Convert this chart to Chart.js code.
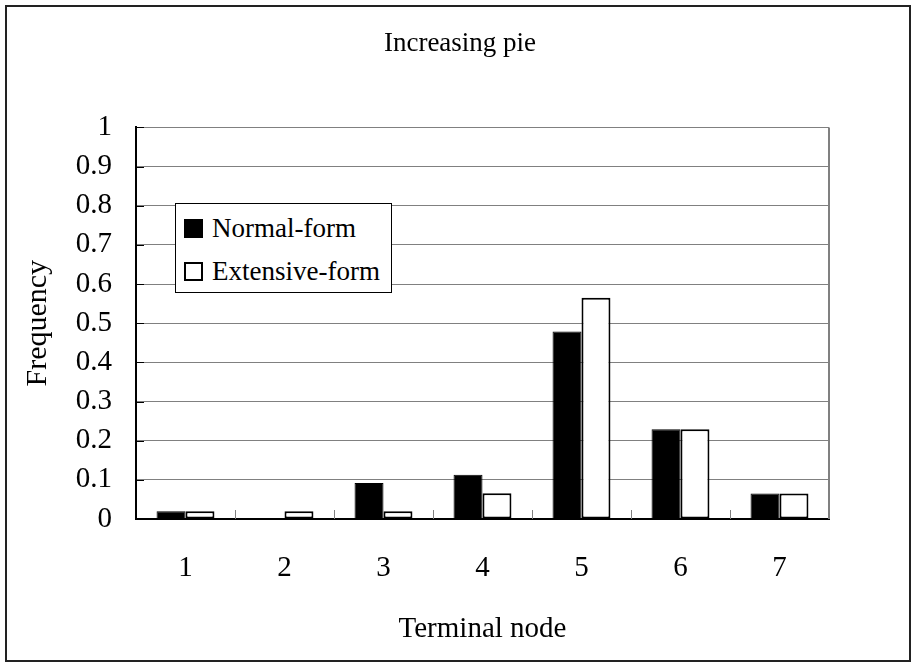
<!DOCTYPE html>
<html>
<head>
<meta charset="utf-8">
<title>Increasing pie</title>
<script src="https://cdn.jsdelivr.net/npm/chart.js@4.4.1/dist/chart.umd.min.js"></script>
<style>
  html, body { margin: 0; padding: 0; background: #fff; }
  #wrap { position: relative; width: 914px; height: 664px; }
  #chart { position: absolute; left: 0; top: 0; }
  #frame { position: absolute; left: 5px; top: 5px; width: 906px; height: 657px; border: 2px solid #222; box-sizing: border-box; pointer-events: none; }
  #legend { position: absolute; left: 175px; top: 203px; width: 217px; height: 90px; box-sizing: border-box; border: 1px solid #000; background: #fff; font-family: 'Liberation Serif', 'Times New Roman', serif; font-size: 27px; color: #000; }
  .box { position: absolute; left: 8px; width: 19px; height: 19px; box-sizing: border-box; border: 2px solid #000; }
  .lbl { position: absolute; left: 36px; white-space: nowrap; line-height: 27px; }
</style>
</head>
<body>
<div id="wrap">
  <canvas id="chart" width="914" height="664"></canvas>
  <div id="frame"></div>
  <div id="legend"></div>
</div>
<script>
const categories = ['1', '2', '3', '4', '5', '6', '7'];
const seriesNames = ['Normal-form', 'Extensive-form'];
const normalForm = [0.02, 0, 0.092, 0.113, 0.479, 0.229, 0.065];
const extensiveForm = [0.02, 0.02, 0.02, 0.066, 0.565, 0.229, 0.065];
const yTickLabels = ['0', '0.1', '0.2', '0.3', '0.4', '0.5', '0.6', '0.7', '0.8', '0.9', '1'];

const serif = "'Liberation Serif', 'Times New Roman', serif";

// gray right edge, inner tick marks on both axes
const plotFrame = {
  id: 'plotFrame',
  afterDatasetsDraw(chart) {
    const { ctx, chartArea: a, scales: { x, y } } = chart;
    ctx.save();
    ctx.strokeStyle = '#808080';
    ctx.lineWidth = 2;
    ctx.beginPath();
    ctx.moveTo(a.right, a.top);
    ctx.lineTo(a.right, a.bottom);
    ctx.stroke();

    ctx.lineWidth = 1;
    for (let i = 0; i < categories.length - 1; i++) {
      const px = Math.round((x.getPixelForValue(i) + x.getPixelForValue(i + 1)) / 2) + 0.5;
      ctx.beginPath();
      ctx.moveTo(px, a.bottom);
      ctx.lineTo(px, a.bottom - 9);
      ctx.stroke();
    }

    ctx.strokeStyle = '#000';
    ctx.lineWidth = 1;
    y.ticks.forEach((t) => {
      const py = Math.round(y.getPixelForValue(t.value)) + 0.5;
      ctx.beginPath();
      ctx.moveTo(a.left, py);
      ctx.lineTo(a.left + 8, py);
      ctx.stroke();
    });
    ctx.restore();
  },
};

const chart = new Chart(document.getElementById('chart'), {
  type: 'bar',
  data: {
    labels: categories,
    datasets: [
      {
        label: seriesNames[0],
        data: normalForm,
        backgroundColor: '#000000',
        borderColor: '#000000',
        borderWidth: 1,
        categoryPercentage: 0.585,
        barPercentage: 1.0,
      },
      {
        label: seriesNames[1],
        data: extensiveForm,
        backgroundColor: '#ffffff',
        borderColor: '#000000',
        borderWidth: 2,
        borderSkipped: false,
        categoryPercentage: 0.585,
        barPercentage: 1.0,
      },
    ],
  },
  options: {
    responsive: false,
    animation: false,
    layout: { padding: { left: 6, right: 0, top: 0, bottom: 0 } },
    scales: {
      x: {
        grid: { display: false, drawTicks: false },
        border: { display: true, color: '#000', width: 2 },
        ticks: { color: '#000', font: { family: serif, size: 29 }, padding: 32 },
        title: {
          display: true,
          text: 'Terminal node',
          color: '#000',
          font: { family: serif, size: 29 },
          padding: { top: 0, bottom: 17 },
        },
        afterFit: (s) => { s.height = 145; },
      },
      y: {
        min: 0,
        max: 1,
        grid: { color: '#808080', lineWidth: 1, drawTicks: false },
        border: { display: true, color: '#000', width: 2 },
        ticks: {
          stepSize: 0.1,
          color: '#000',
          font: { family: serif, size: 29 },
          padding: 24,
          callback: (value, index) => yTickLabels[index],
        },
        title: {
          display: true,
          text: 'Frequency',
          color: '#000',
          font: { family: serif, size: 30 },
          padding: { top: 14, bottom: 0 },
        },
        afterFit: (s) => { s.width = 130; },
      },
      y2: {
        position: 'right',
        grid: { display: false, drawTicks: false },
        border: { display: false },
        ticks: { display: false },
        afterFit: (s) => { s.width = 85; },
      },
    },
    plugins: {
      legend: { display: false },
      tooltip: { enabled: false },
      title: {
        display: true,
        text: 'Increasing pie',
        color: '#000',
        font: { family: serif, size: 27, weight: 'normal' },
        padding: { top: 28, bottom: 67 },
      },
    },
  },
  plugins: [plotFrame],
});

// legend box inside the plot, built from the datasets
const legendEl = document.getElementById('legend');
const rowTops = [11, 54];
chart.data.datasets.forEach((ds, i) => {
  const box = document.createElement('div');
  box.className = 'box';
  box.style.top = (rowTops[i] + 4) + 'px';
  box.style.background = ds.backgroundColor;
  legendEl.appendChild(box);
  const lbl = document.createElement('div');
  lbl.className = 'lbl';
  lbl.style.top = rowTops[i] + 'px';
  lbl.textContent = ds.label;
  legendEl.appendChild(lbl);
});
</script>
</body>
</html>
